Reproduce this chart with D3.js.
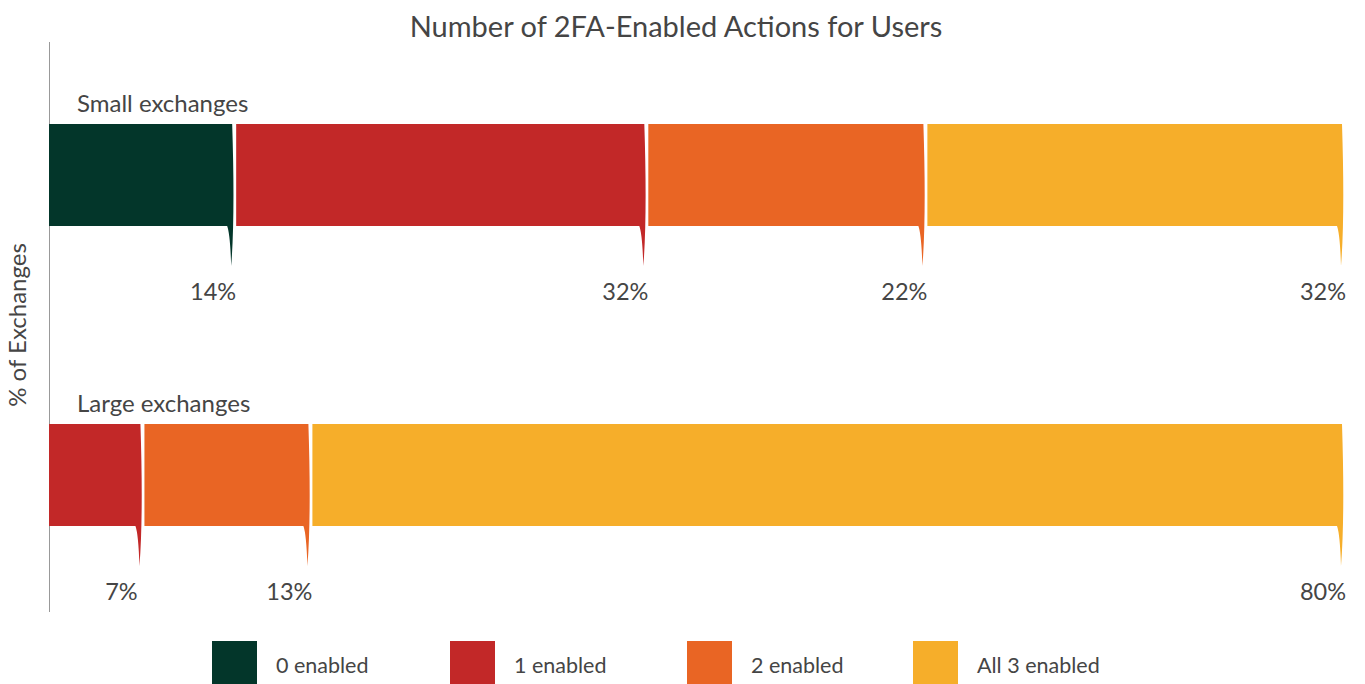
<!DOCTYPE html>
<html>
<head>
<meta charset="utf-8">
<script src="https://cdn.jsdelivr.net/npm/d3@7"></script>
<style>
  body { margin: 0; background: #fff; }
  text { font-family: Lato, "Open Sans", sans-serif; fill: #454545; }
</style>
</head>
<body>
<svg id="chart" width="1365" height="684"></svg>
<script>
// data (labels are the rounded values)
var categories = ["Small exchanges", "Large exchanges"];
var seriesNames = ["0 enabled", "1 enabled", "2 enabled", "All 3 enabled"];
var smallValues = [14.1, 31.9, 21.6, 32.4];
var largeValues = [0, 7, 13, 80];
var colors = ["#03362a", "#c22828", "#e96524", "#f6ae2a"];

var svg = d3.select("#chart");
var barH = 102, tailH = 40;

var x = d3.scaleLinear().domain([0, 100]).range([49, 1341]);
var y = d3.scalePoint().domain(categories).range([124, 424]);
var color = d3.scaleOrdinal().domain(seriesNames).range(colors);

// title
svg.append("text")
    .attr("x", 676).attr("y", 37)
    .attr("text-anchor", "middle")
    .style("font-size", "29px")
    .text("Number of 2FA-Enabled Actions for Users");

// y axis line + label
svg.append("line")
    .attr("x1", 49.5).attr("x2", 49.5)
    .attr("y1", 42).attr("y2", 612)
    .attr("stroke", "#999").attr("stroke-width", 1);

svg.append("text")
    .attr("transform", "translate(26,325) rotate(-90)")
    .attr("text-anchor", "middle")
    .style("font-size", "24px")
    .text("% of Exchanges");

// build stacked rows
var rows = [smallValues, largeValues].map(function (vals, r) {
    var cum = 0;
    var segs = [];
    vals.forEach(function (v, i) {
        if (v > 0) segs.push({ name: seriesNames[i], value: v, start: cum, end: cum + v });
        cum += v;
    });
    return { category: categories[r], segs: segs };
});

// bar shape with a little drip tail at the right end
function segPath(d, top, first) {
    var x0 = x(d.start) + (first ? 0 : 5);
    var x1 = x(d.end) + 1;
    var bot = top + barH, tip = bot + tailH;
    return "M" + x0 + "," + top +
        "L" + x1 + "," + top +
        "Q" + (x1 + 3) + "," + (bot - 10) + " " + (x1 - 1) + "," + tip +
        "Q" + (x1 - 2) + "," + (bot + 8) + " " + (x1 - 5) + "," + bot +
        "L" + x0 + "," + bot + "Z";
}

var row = svg.selectAll(".row")
    .data(rows)
    .enter().append("g")
    .attr("class", "row");

row.append("text")
    .attr("x", 77)
    .attr("y", function (d) { return y(d.category) - 12; })
    .style("font-size", "24px")
    .text(function (d) { return d.category; });

row.each(function (r) {
    var top = y(r.category);
    var g = d3.select(this);

    g.selectAll("path")
        .data(r.segs)
        .enter().append("path")
        .attr("d", function (d, i) { return segPath(d, top, i === 0); })
        .attr("fill", function (d) { return color(d.name); });

    g.selectAll(".val")
        .data(r.segs)
        .enter().append("text")
        .attr("class", "val")
        .attr("x", function (d) { return x(d.end) - 18; })
        .attr("y", top + barH + tailH + 34)
        .attr("text-anchor", "middle")
        .style("font-size", "23.5px")
        .text(function (d) { return Math.round(d.value) + "%"; });
});

// legend
var legendX = [212, 450, 687, 913];
var legend = svg.selectAll(".legend")
    .data(seriesNames)
    .enter().append("g")
    .attr("class", "legend")
    .attr("transform", function (d, i) { return "translate(" + legendX[i] + ",641)"; });

legend.append("rect")
    .attr("width", 45).attr("height", 45)
    .attr("fill", function (d) { return color(d); });

legend.append("text")
    .attr("x", 64).attr("y", 32)
    .style("font-size", "21.5px")
    .text(function (d) { return d; });
</script>
</body>
</html>
